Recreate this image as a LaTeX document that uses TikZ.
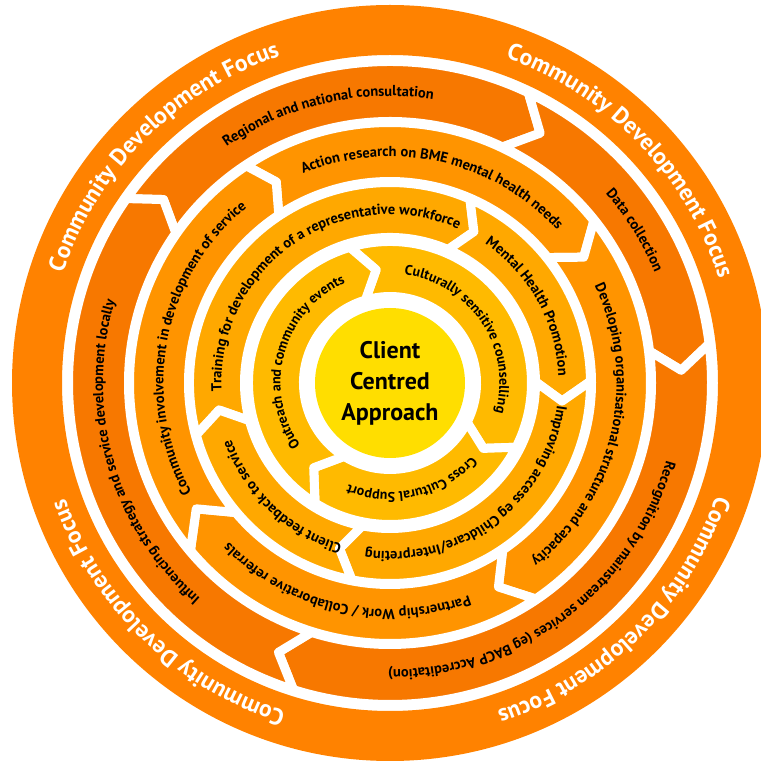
\documentclass[tikz,border=0pt]{standalone}
\usepackage{fontspec}
\setmainfont{PT Sans}
\usetikzlibrary{decorations.text}

\definecolor{focusorange}{RGB}{255,130,0}
\definecolor{ringtwo}{RGB}{247,120,0}
\definecolor{ringthree}{RGB}{255,148,0}
\definecolor{ringfour}{RGB}{255,168,0}
\definecolor{ringfive}{RGB}{255,186,0}
\definecolor{hubyellow}{RGB}{255,222,0}

\newcommand{\ringfont}{\fontsize{14.5}{17}\selectfont\bfseries}
\newcommand{\innerfont}{\fontsize{14}{17}\selectfont\bfseries}
\newcommand{\focusfont}{\fontsize{23.5}{28}\selectfont\bfseries}
\newcommand{\hubfont}{\fontsize{24}{31}\selectfont\bfseries}

% colour, inner r, outer r, start, notch, end, tip
\newcommand{\arrowseg}[7]{%
    \pgfmathsetmacro{\segmid}{(#2+#3)/2}%
    \filldraw[segment, fill=#1] (#4:#3pt) arc[start angle=#4, end angle=#6, radius=#3pt]
        -- (#7:\segmid pt) -- (#6:#2pt) arc[start angle=#6, end angle=#4, radius=#2pt]
        -- (#5:\segmid pt) -- cycle;}
\newcommand{\ringlabel}[3]{\path[ringtext={#3}] ({#1+80}:#2pt) arc[start angle={#1+80}, end angle={#1-80}, radius=#2pt];}
\newcommand{\innerlabel}[3]{\path[innertext={#3}] ({#1+85}:#2pt) arc[start angle={#1+85}, end angle={#1-85}, radius=#2pt];}
\newcommand{\focuslabel}[1]{\path[focustext={Community Development Focus}] ({#1+80}:345pt) arc[start angle={#1+80}, end angle={#1-80}, radius=345pt];}

\begin{document}
\begin{tikzpicture}[
    segment/.style={
        draw=white,
        line width=9pt,
        line join=round
    },
    ringtext/.style={
        decorate,
        decoration={text along path, text align=center, text={|\ringfont|#1}}
    },
    innertext/.style={
        decorate,
        decoration={text along path, text align=center, text={|\innerfont|#1}}
    },
    focustext/.style={
        decorate,
        decoration={text along path, text align=center, text color=white, text={|\focusfont|#1}}
    },
    hubtext/.style={
        align=center,
        font=\hubfont,
        inner sep=0pt
    }
    ]
    \useasboundingbox (0,0) rectangle (761pt,764pt);
    \begin{scope}[shift={(390pt,381pt)}]
    % outer ring
    \fill[focusorange, even odd rule] (0,0) circle[radius=378pt] (0,0) circle[radius=328pt];
    \focuslabel{135}
    \focuslabel{44}
    \focuslabel{-45.5}
    \focuslabel{226}

    % second ring
    \arrowseg{ringtwo}{261.5}{321.5}{145}{141}{64.5}{59}
    \arrowseg{ringtwo}{261.5}{321.5}{64.5}{59}{7}{2.5}
    \arrowseg{ringtwo}{261.5}{321.5}{7}{2.5}{-107.5}{-112.5}
    \arrowseg{ringtwo}{261.5}{321.5}{252.5}{247.5}{145}{141}
    \ringlabel{103}{287}{Regional and national consultation}
    \ringlabel{32}{287}{Data collection}
    \ringlabel{-53}{287}{Recognition by mainstream services (eg BACP Accreditation)}
    \ringlabel{196}{287}{Influencing strategy and service development locally}

    % third ring
    \arrowseg{ringthree}{201.5}{260.5}{123.5}{119.5}{38.5}{33}
    \arrowseg{ringthree}{201.5}{260.5}{38.5}{33}{-56}{-62}
    \arrowseg{ringthree}{201.5}{260.5}{-56}{-62}{-140}{-147}
    \arrowseg{ringthree}{201.5}{260.5}{220}{213}{123.5}{119.5}
    \ringlabel{77.5}{226.5}{Action research on BME mental health needs}
    \ringlabel{-13}{226.5}{Developing organisational structure and capacity}
    \ringlabel{-102.5}{226.5}{Partnership Work / Collaborative referrals}
    \ringlabel{169}{226.5}{Community involvement in development of service}

    % fourth ring
    \arrowseg{ringfour}{145.5}{200.5}{195}{189}{66.5}{61}
    \arrowseg{ringfour}{145.5}{200.5}{66.5}{61}{0.5}{-6}
    \arrowseg{ringfour}{145.5}{200.5}{0.5}{-6}{-101}{-107}
    \arrowseg{ringfour}{145.5}{200.5}{259}{253}{195}{189}
    \ringlabel{124.5}{168.5}{Training for development of a representative workforce}
    \ringlabel{29}{168.5}{Mental Health Promotion}
    \ringlabel{-53}{168.5}{Improving access eg Childcare/Interpreting}
    \ringlabel{226.5}{168.5}{Client feedback to service}

    % fifth ring
    \arrowseg{ringfive}{86.5}{141.5}{106.5}{97}{-27}{-35}
    \arrowseg{ringfive}{86.5}{141.5}{-27}{-35}{-122}{-132}
    \arrowseg{ringfive}{86.5}{141.5}{238}{228}{106.5}{97}
    \innerlabel{33.5}{109.5}{Culturally sensitive counselling}
    \innerlabel{-77}{109.5}{Cross Cultural Support}
    \innerlabel{164.5}{109.5}{Outreach and community events}

    % hub
    \fill[hubyellow] (0,0) circle[radius=75pt];
    \node[hubtext] (hub) at (0,0) {Client\\Centred\\Approach};
    \end{scope}
\end{tikzpicture}
\end{document}
